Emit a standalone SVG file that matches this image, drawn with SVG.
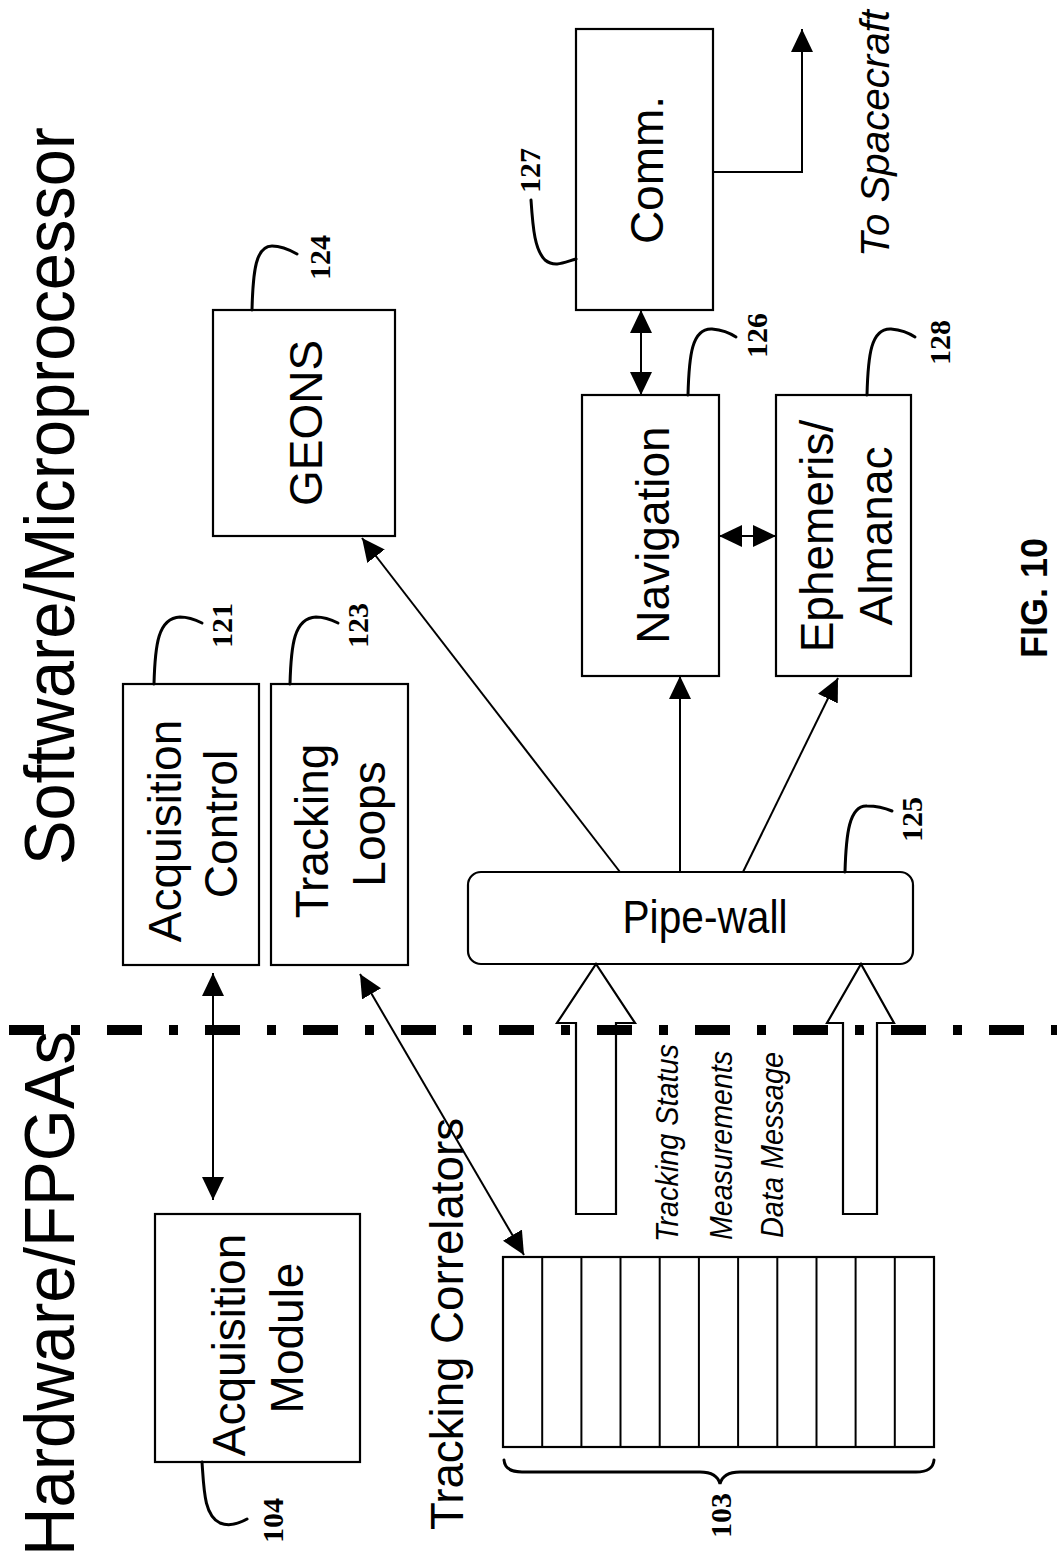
<svg xmlns="http://www.w3.org/2000/svg" width="1057" height="1566" viewBox="0 0 1057 1566">
<style>
.box{fill:#fff;stroke:#000;stroke-width:2.2}
.lbl{font-family:"Liberation Sans",Arial,sans-serif;font-size:46px;fill:#000}
.it{font-family:"Liberation Sans",Arial,sans-serif;font-style:italic;fill:#000}
.num{font-family:"Liberation Serif","Times New Roman",serif;font-weight:bold;font-size:30px;fill:#000}
.title{font-family:"Liberation Sans",Arial,sans-serif;font-size:70px;fill:#000}
.lead{fill:none;stroke:#000;stroke-width:3;stroke-linecap:round}
.con{fill:none;stroke:#000;stroke-width:2}
</style>
<defs>
<marker id="ah" viewBox="0 0 23 22" refX="23" refY="11" markerWidth="23" markerHeight="22" markerUnits="userSpaceOnUse" orient="auto-start-reverse"><path d="M0,0 L23,11 L0,22 z" fill="#000"/></marker>
</defs>
<rect width="1057" height="1566" fill="#fff"/>

<g id="titles">
<text class="title" transform="translate(74,865) rotate(-90)" textLength="738" lengthAdjust="spacingAndGlyphs">Software/Microprocessor</text>
<text class="title" transform="translate(74,1556) rotate(-90)" textLength="525" lengthAdjust="spacingAndGlyphs">Hardware/FPGAs</text>
<text class="it" font-size="41" transform="translate(889,257) rotate(-90)" textLength="247" lengthAdjust="spacingAndGlyphs">To Spacecraft</text>
<text font-family="Liberation Sans, Arial, sans-serif" font-weight="bold" font-size="36" transform="translate(1047,658) rotate(-90)">FIG. 10</text>
</g>

<g id="node-121">
<rect class="box" x="123" y="684" width="136" height="281"/>
<text class="lbl" transform="translate(181,831) rotate(-90)" text-anchor="middle">Acquisition</text>
<text class="lbl" transform="translate(237,824) rotate(-90)" text-anchor="middle">Control</text>
<path class="lead" d="M154,684 C155,645 158,618 180,617 C190,617 196,620 202,623"/>
<text class="num" transform="translate(232,648) rotate(-90)">121</text>
</g>

<g id="node-123">
<rect class="box" x="271" y="684" width="137" height="281"/>
<text class="lbl" transform="translate(328,831) rotate(-90)" text-anchor="middle">Tracking</text>
<text class="lbl" transform="translate(385,824) rotate(-90)" text-anchor="middle">Loops</text>
<path class="lead" d="M290,684 C291,645 294,618 316,617 C326,617 332,620 338,623"/>
<text class="num" transform="translate(368,648) rotate(-90)">123</text>
</g>

<g id="node-124">
<rect class="box" x="213" y="310" width="182" height="226"/>
<text class="lbl" transform="translate(322,423) rotate(-90)" text-anchor="middle">GEONS</text>
<path class="lead" d="M252,310 C253,270 256,246 272,246 C282,246 290,250 297,254"/>
<text class="num" transform="translate(330,280) rotate(-90)">124</text>
</g>

<g id="node-127">
<rect class="box" x="576" y="29" width="137" height="281"/>
<text class="lbl" transform="translate(663,170) rotate(-90)" text-anchor="middle">Comm.</text>
<path class="lead" d="M576,259 C565,262 555,268 545,260 C535,250 533,230 531,200"/>
<text class="num" transform="translate(540,193) rotate(-90)">127</text>
</g>

<g id="node-126">
<rect class="box" x="582" y="395" width="137" height="281"/>
<text class="lbl" transform="translate(669,535) rotate(-90)" text-anchor="middle">Navigation</text>
<path class="lead" d="M688,395 C689,355 692,328 712,329 C722,330 730,333 736,337"/>
<text class="num" transform="translate(767,358) rotate(-90)">126</text>
</g>

<g id="node-128">
<rect class="box" x="776" y="395" width="135" height="281"/>
<text class="lbl" transform="translate(833,536) rotate(-90)" text-anchor="middle">Ephemeris/</text>
<text class="lbl" transform="translate(892,536) rotate(-90)" text-anchor="middle">Almanac</text>
<path class="lead" d="M867,395 C868,355 871,328 891,329 C901,330 909,333 915,337"/>
<text class="num" transform="translate(950,365) rotate(-90)">128</text>
</g>

<g id="node-125">
<rect class="box" x="468" y="872" width="445" height="92" rx="13"/>
<text class="lbl" font-size="41" x="705" y="933" text-anchor="middle" textLength="165" lengthAdjust="spacingAndGlyphs">Pipe-wall</text>
<path class="lead" d="M845,872 C846,835 849,805 867,806 C877,806 885,808 892,811"/>
<text class="num" transform="translate(922,842) rotate(-90)">125</text>
</g>

<g id="node-104">
<rect class="box" x="155" y="1214" width="205" height="248"/>
<text class="lbl" transform="translate(245,1345) rotate(-90)" text-anchor="middle">Acquisition</text>
<text class="lbl" transform="translate(303,1338) rotate(-90)" text-anchor="middle">Module</text>
<path class="lead" d="M202,1462 C204,1490 204,1515 220,1523 C230,1527 240,1523 247,1519"/>
<text class="num" transform="translate(283,1543) rotate(-90)">104</text>
</g>

<g id="node-103">
<text class="lbl" transform="translate(463,1530) rotate(-90)" textLength="412" lengthAdjust="spacingAndGlyphs">Tracking Correlators</text>
<rect class="box" x="503" y="1257" width="431" height="190"/>
<g stroke="#000" stroke-width="2">
<line x1="542.2" y1="1257" x2="542.2" y2="1447"/>
<line x1="581.4" y1="1257" x2="581.4" y2="1447"/>
<line x1="620.5" y1="1257" x2="620.5" y2="1447"/>
<line x1="659.7" y1="1257" x2="659.7" y2="1447"/>
<line x1="698.9" y1="1257" x2="698.9" y2="1447"/>
<line x1="738.1" y1="1257" x2="738.1" y2="1447"/>
<line x1="777.3" y1="1257" x2="777.3" y2="1447"/>
<line x1="816.5" y1="1257" x2="816.5" y2="1447"/>
<line x1="855.6" y1="1257" x2="855.6" y2="1447"/>
<line x1="894.8" y1="1257" x2="894.8" y2="1447"/>
</g>
<path class="lead" d="M504,1460 Q505,1472 522,1472 L700,1472 Q717,1472 720,1484 Q723,1472 740,1472 L916,1472 Q933,1472 934,1460"/>
<text class="num" transform="translate(731,1538) rotate(-90)">103</text>
</g>

<g id="data-flow">
<polygon class="box" points="576,1214 576,1023 557,1023 596,964 635,1023 616,1023 616,1214"/>
<polygon class="box" points="843,1214 843,1023 827,1023 861,964 894,1023 877,1023 877,1214"/>
<text class="it" font-size="32" transform="translate(678,1242) rotate(-90)" textLength="198" lengthAdjust="spacingAndGlyphs">Tracking Status</text>
<text class="it" font-size="32" transform="translate(732,1240) rotate(-90)" textLength="189" lengthAdjust="spacingAndGlyphs">Measurements</text>
<text class="it" font-size="32" transform="translate(783,1238) rotate(-90)" textLength="186" lengthAdjust="spacingAndGlyphs">Data Message</text>
</g>

<g id="divider">
<line x1="0" y1="1030" x2="1057" y2="1030" stroke="#000" stroke-width="10" stroke-dasharray="35 27 9 27" stroke-dashoffset="89"/>
</g>

<g id="connectors">
<line class="con" x1="213" y1="973" x2="213" y2="1200" marker-start="url(#ah)" marker-end="url(#ah)"/>
<line class="con" x1="360" y1="974" x2="524" y2="1255" marker-start="url(#ah)" marker-end="url(#ah)"/>
<line class="con" x1="620" y1="872" x2="362" y2="538" marker-end="url(#ah)"/>
<line class="con" x1="680" y1="872" x2="680" y2="676" marker-end="url(#ah)"/>
<line class="con" x1="743" y1="872" x2="838" y2="678" marker-end="url(#ah)"/>
<line class="con" x1="641" y1="310" x2="641" y2="395" marker-start="url(#ah)" marker-end="url(#ah)"/>
<line class="con" x1="719" y1="536" x2="776" y2="536" marker-start="url(#ah)" marker-end="url(#ah)"/>
<polyline class="con" points="713,172 802,172 802,29" marker-end="url(#ah)"/>
</g>
</svg>
